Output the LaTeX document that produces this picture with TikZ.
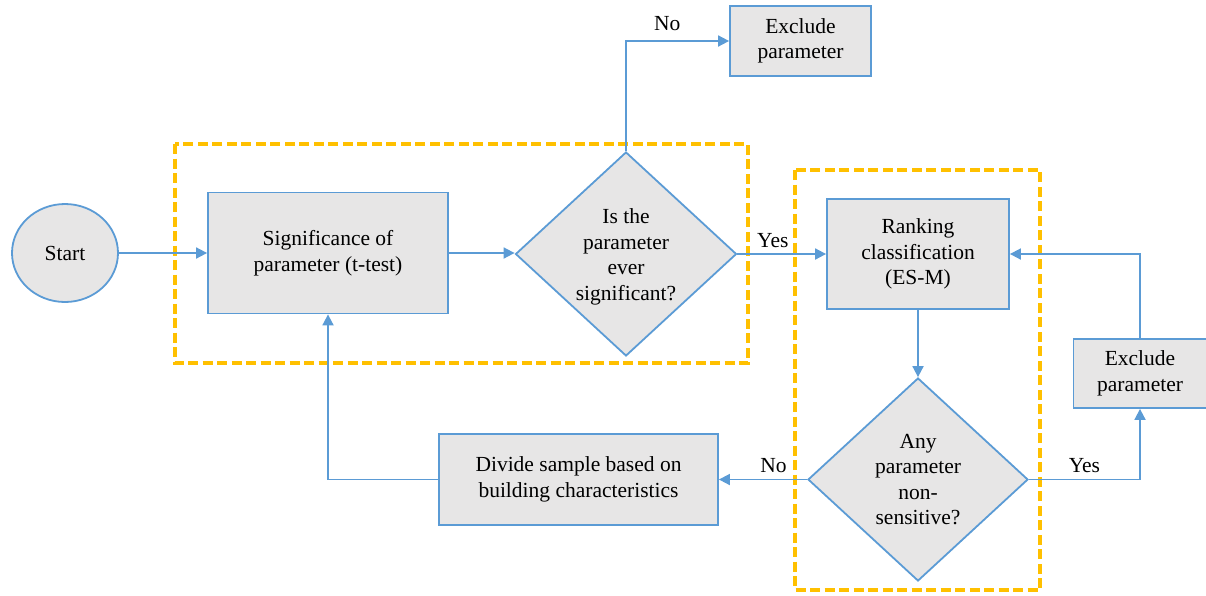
\documentclass[tikz,border=0pt]{standalone}
\usepackage{fontspec}
\setmainfont{Liberation Serif}
\usetikzlibrary{shapes.geometric,arrows.meta}
\definecolor{flowblue}{HTML}{5B9BD5}
\definecolor{flowgray}{HTML}{E7E6E6}
\definecolor{groupgold}{HTML}{FFC000}
\begin{document}
\begin{tikzpicture}[x=1pt,y=-1pt,
  every node/.style={font=\fontsize{21.5}{25.5}\selectfont},
  base/.style={draw=flowblue, fill=flowgray, line width=1.8pt, inner sep=0pt},
  procbox/.style={base, rectangle, align=center},
  decision/.style={base, diamond},
  terminal/.style={base, ellipse},
  flow/.style={draw=flowblue, line width=1.8pt, -{Triangle[length=11pt,width=11pt]}},
  edgetext/.style={above, inner sep=5.5pt},
  groupframe/.style={draw=groupgold, line width=3.5pt, dash pattern=on 10pt off 4.5pt},
]
\useasboundingbox (0,0) rectangle (1206,595);

% process nodes (main row centred on y = 253)
\node[terminal, minimum width=106pt, minimum height=98pt] (start) at (65,253) {Start};
\node[procbox, minimum width=240pt, minimum height=121pt] (sig) at (328,253)
  {Significance of\\parameter (t-test)};
\node[decision, minimum width=221pt, minimum height=204pt] (d1) at (626,254) {};
\node[align=center] (d1text) at (626,257) {Is the\\parameter\\ever\\significant?};
\node[procbox, minimum width=141pt, minimum height=70pt] (exc1) at (800.5,41)
  {Exclude\\parameter};
\node[procbox, minimum width=182pt, minimum height=110pt] (rank) at (918,254)
  {Ranking\\classification\\(ES-M)};
\node[decision, minimum width=220pt, minimum height=203pt] (d2) at (918,479.5) {};
\node[align=center] (d2text) at (d2) {Any\\parameter\\non-\\sensitive?};
\node[procbox, minimum width=133pt, minimum height=69pt] (exc2) at (1140,373.5)
  {Exclude\\parameter};
\node[procbox, minimum width=279pt, minimum height=91pt] (div) at (578.5,479.5)
  {Divide sample based on\\building characteristics};

% grouping frames
\draw[groupframe] (175,144) rectangle (748,363);
\draw[groupframe] (795,170) rectangle (1040,590);

% connectors
\draw[flow] (start.east) -- (start.east -| sig.west);
\draw[flow] (sig.east) -- (sig.east -| d1.west);
\draw[flow] (d1.east) -- node[edgetext, pos=0.4] {Yes} (rank.west);
\draw[flow] (d1.north) |- node[edgetext, pos=0.7, inner sep=9pt] {No} (exc1.west);
\draw[flow] (rank.south) -- (d2.north);
\draw[flow] (d2.west) -- node[edgetext, pos=0.38] {No} (div.east);
\draw[flow] (d2.east) -| node[edgetext, pos=0.25] {Yes} (exc2.south);
\draw[flow] (exc2.north) |- (rank.east);
\draw[flow] (div.west) -| (sig.south);
\end{tikzpicture}
\end{document}
